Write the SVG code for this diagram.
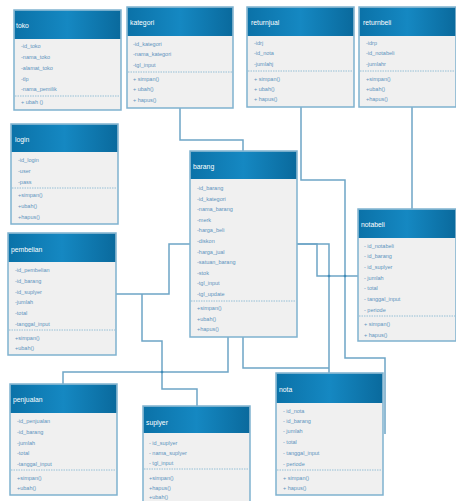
<svg xmlns="http://www.w3.org/2000/svg" width="456" height="501" viewBox="0 0 456 501">
<defs>
<linearGradient id="hg" x1="0" y1="0" x2="1" y2="0">
<stop offset="0" stop-color="#0b72a8"/>
<stop offset="0.5" stop-color="#1588c2"/>
<stop offset="1" stop-color="#0a6a9d"/>
</linearGradient>
<style>
.box{fill:#f0f0f0;stroke:#7fb2cf;stroke-width:1.5}
.hd{fill:url(#hg)}
.sep{stroke:#7fb2cf;stroke-width:0.8;stroke-dasharray:1.5 1}
.ht{font-family:"Liberation Sans",Arial,sans-serif;font-size:6.8px;fill:#ffffff}
.at{font-family:"Liberation Sans",Arial,sans-serif;font-size:5.5px;fill:#5d93bd}
.cn{fill:none;stroke:#6ea5c6;stroke-width:1.5}
.dot{fill:#3f8bb8}
</style>
</defs>
<rect width="456" height="501" fill="#ffffff"/>

<g id="connectors">
<path class="cn" d="M180,108 V140 H243 V151"/>
<path class="cn" d="M301,107 V180 H345 V358 H385 V434"/>
<path class="cn" d="M412,107 V209"/>
<path class="cn" d="M297,244 H317 V276 H358"/>
<path class="cn" d="M297,244 H329 V373"/>
<path class="cn" d="M243,337 V368 H329"/>
<path class="cn" d="M228,337 V372 H63 V384"/>
<path class="cn" d="M116,294 H169 V244 H190"/>
<path class="cn" d="M142,294 V341 H162 V389 H197 V406"/>
<circle class="dot" cx="329" cy="276" r="1.3"/>
<circle class="dot" cx="345" cy="276" r="1.3"/>
<circle class="dot" cx="162" cy="372" r="1.3"/>
</g>

<g id="toko">
<rect class="box" x="14" y="10" width="107" height="100"/>
<rect class="hd" x="14.75" y="10.75" width="105.5" height="28.25"/>
<text class="ht" x="16" y="27.5">toko</text>
<text class="at" x="21" y="48">-id_toko</text>
<text class="at" x="21" y="59">-nama_toko</text>
<text class="at" x="21" y="70">-alamat_toko</text>
<text class="at" x="21" y="81">-tlp</text>
<text class="at" x="21" y="91">-nama_pemilik</text>
<line class="sep" x1="15" y1="96" x2="120" y2="96"/>
<text class="at" x="21" y="104">+ ubah ()</text>
</g>

<g id="kategori">
<rect class="box" x="127" y="7" width="106" height="101"/>
<rect class="hd" x="127.75" y="7.75" width="104.5" height="28.25"/>
<text class="ht" x="130" y="24.5">kategori</text>
<text class="at" x="133" y="46">-id_kategori</text>
<text class="at" x="133" y="56">-nama_kategori</text>
<text class="at" x="133" y="67">-tgl_input</text>
<line class="sep" x1="128" y1="72" x2="232" y2="72"/>
<text class="at" x="133" y="81">+ simpan()</text>
<text class="at" x="133" y="91">+ ubah()</text>
<text class="at" x="133" y="102">+ hapus()</text>
</g>

<g id="returnjual">
<rect class="box" x="247" y="7" width="107" height="100"/>
<rect class="hd" x="247.75" y="7.75" width="105.5" height="28.25"/>
<text class="ht" x="251" y="24.5">returnjual</text>
<text class="at" x="254" y="45">-idrj</text>
<text class="at" x="254" y="55">-id_nota</text>
<text class="at" x="254" y="66">-jumlahj</text>
<line class="sep" x1="248" y1="71" x2="353" y2="71"/>
<text class="at" x="254" y="81">+ simpan()</text>
<text class="at" x="254" y="91">+ ubah()</text>
<text class="at" x="254" y="101">+ hapus()</text>
</g>

<g id="returnbeli">
<rect class="box" x="359" y="7" width="97" height="100"/>
<rect class="hd" x="359.75" y="7.75" width="95.5" height="28.25"/>
<text class="ht" x="363" y="24.5">returnbeli</text>
<text class="at" x="366" y="45">-idrp</text>
<text class="at" x="366" y="55">-id_notabeli</text>
<text class="at" x="366" y="66">-jumlahr</text>
<line class="sep" x1="360" y1="71" x2="455" y2="71"/>
<text class="at" x="366" y="81">+simpan()</text>
<text class="at" x="366" y="91">+ubah()</text>
<text class="at" x="366" y="101">+hapus()</text>
</g>

<g id="login">
<rect class="box" x="11" y="124" width="107" height="100"/>
<rect class="hd" x="11.75" y="124.75" width="105.5" height="27.25"/>
<text class="ht" x="15" y="141.5">login</text>
<text class="at" x="18" y="162">-id_login</text>
<text class="at" x="18" y="173">-user</text>
<text class="at" x="18" y="184">-pass</text>
<line class="sep" x1="12" y1="188" x2="117" y2="188"/>
<text class="at" x="18" y="197">+simpan()</text>
<text class="at" x="18" y="208">+ubah()</text>
<text class="at" x="18" y="219">+hapus()</text>
</g>

<g id="barang">
<rect class="box" x="190" y="151" width="107" height="186"/>
<rect class="hd" x="190.75" y="151.75" width="105.5" height="27.25"/>
<text class="ht" x="193" y="168.5">barang</text>
<text class="at" x="197" y="190">-id_barang</text>
<text class="at" x="197" y="200.6">-id_kategori</text>
<text class="at" x="197" y="211.2">-nama_barang</text>
<text class="at" x="197" y="221.8">-merk</text>
<text class="at" x="197" y="232.4">-harga_beli</text>
<text class="at" x="197" y="243">-diskon</text>
<text class="at" x="197" y="253.6">-harga_jual</text>
<text class="at" x="197" y="264.2">-satuan_barang</text>
<text class="at" x="197" y="274.8">-stok</text>
<text class="at" x="197" y="285.4">-tgl_input</text>
<text class="at" x="197" y="296">-tgl_update</text>
<line class="sep" x1="191" y1="301" x2="296" y2="301"/>
<text class="at" x="197" y="310">+simpan()</text>
<text class="at" x="197" y="321">+ubah()</text>
<text class="at" x="197" y="331">+hapus()</text>
</g>

<g id="notabeli">
<rect class="box" x="358" y="209" width="98" height="132"/>
<rect class="hd" x="358.75" y="209.75" width="96.5" height="28.25"/>
<text class="ht" x="361" y="226.5">notabeli</text>
<text class="at" x="364" y="248">- id_notabeli</text>
<text class="at" x="364" y="258">- id_barang</text>
<text class="at" x="364" y="269">- id_suplyer</text>
<text class="at" x="364" y="280">- jumlah</text>
<text class="at" x="364" y="290">- total</text>
<text class="at" x="364" y="301">- tanggal_input</text>
<text class="at" x="364" y="312">- periode</text>
<line class="sep" x1="359" y1="316" x2="455" y2="316"/>
<text class="at" x="364" y="326">+ simpan()</text>
<text class="at" x="364" y="337">+ hapus()</text>
</g>

<g id="pembelian">
<rect class="box" x="8" y="233" width="108" height="122"/>
<rect class="hd" x="8.75" y="233.75" width="106.5" height="28.25"/>
<text class="ht" x="11" y="251.5">pembelian</text>
<text class="at" x="15" y="272">-id_pembelian</text>
<text class="at" x="15" y="283">-id_barang</text>
<text class="at" x="15" y="294">-id_suplyer</text>
<text class="at" x="15" y="304">-jumlah</text>
<text class="at" x="15" y="315">-total</text>
<text class="at" x="15" y="326">-tanggal_input</text>
<line class="sep" x1="9" y1="330" x2="115" y2="330"/>
<text class="at" x="15" y="340">+simpan()</text>
<text class="at" x="15" y="350">+ubah()</text>
</g>

<g id="penjualan">
<rect class="box" x="10" y="384" width="107" height="111"/>
<rect class="hd" x="10.75" y="384.75" width="105.5" height="28.25"/>
<text class="ht" x="13" y="401.5">penjualan</text>
<text class="at" x="17" y="423">-id_penjualan</text>
<text class="at" x="17" y="434">-id_barang</text>
<text class="at" x="17" y="445">-jumlah</text>
<text class="at" x="17" y="455">-total</text>
<text class="at" x="17" y="466">-tanggal_input</text>
<line class="sep" x1="11" y1="470" x2="116" y2="470"/>
<text class="at" x="17" y="480">+simpan()</text>
<text class="at" x="17" y="490">+ubah()</text>
</g>

<g id="suplyer">
<rect class="box" x="143" y="406" width="107" height="100"/>
<rect class="hd" x="143.75" y="406.75" width="105.5" height="26.25"/>
<text class="ht" x="146" y="424.5">suplyer</text>
<text class="at" x="149" y="445">- id_suplyer</text>
<text class="at" x="149" y="455">- nama_suplyer</text>
<text class="at" x="149" y="465">- tgl_input</text>
<line class="sep" x1="144" y1="469" x2="249" y2="469"/>
<text class="at" x="149" y="480">+simpan()</text>
<text class="at" x="149" y="490">+hapus()</text>
<text class="at" x="149" y="499">+ubah()</text>
</g>

<g id="nota">
<rect class="box" x="276" y="373" width="107" height="122"/>
<rect class="hd" x="276.75" y="373.75" width="105.5" height="29.25"/>
<text class="ht" x="279" y="391.5">nota</text>
<text class="at" x="283" y="413">- id_nota</text>
<text class="at" x="283" y="423">- id_barang</text>
<text class="at" x="283" y="433">- jumlah</text>
<text class="at" x="283" y="444">- total</text>
<text class="at" x="283" y="455">- tanggal_input</text>
<text class="at" x="283" y="466">- periode</text>
<line class="sep" x1="277" y1="470" x2="382" y2="470"/>
<text class="at" x="283" y="480">+ simpan()</text>
<text class="at" x="283" y="490">+ hapus()</text>
</g>
</svg>
